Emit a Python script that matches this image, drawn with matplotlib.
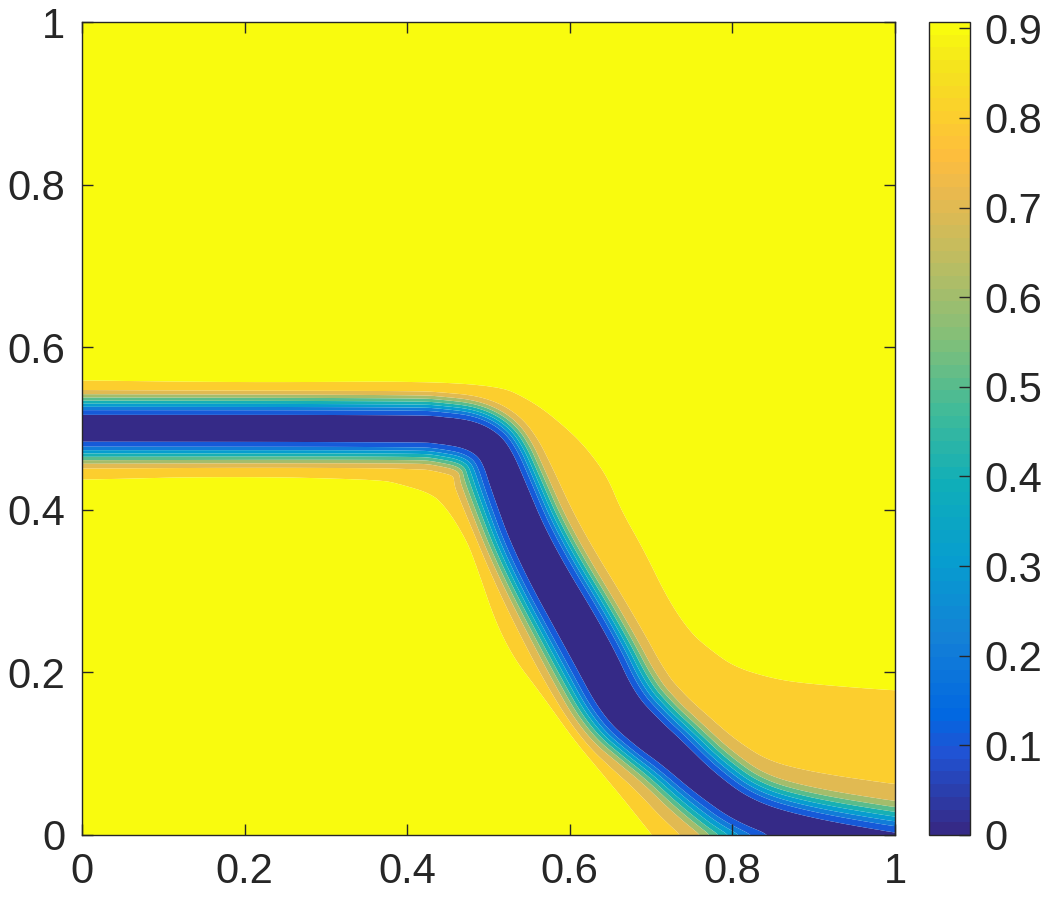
import numpy as np
import matplotlib
matplotlib.use("Agg")
import matplotlib.pyplot as plt
from matplotlib.colors import LinearSegmentedColormap, Normalize
from matplotlib.ticker import FuncFormatter

plt.rcParams['font.family'] = ['Liberation Sans', 'DejaVu Sans']

# parula anchor colours (MATLAB)
parula_pos = [0.0, 0.095, 0.143, 0.238, 0.333, 0.429, 0.524, 0.603, 0.714, 0.794, 0.841, 0.889, 0.952, 1.0]
parula_rgb = [(0.2081, 0.1663, 0.5292), (0.1253, 0.3242, 0.8303), (0.0060, 0.4086, 0.8828),
              (0.0779, 0.5040, 0.8384), (0.0265, 0.6137, 0.8135), (0.0590, 0.6838, 0.7254),
              (0.2586, 0.7317, 0.5954), (0.4871, 0.7491, 0.4840), (0.7525, 0.7384, 0.3768),
              (0.9139, 0.7258, 0.3063), (0.9938, 0.7455, 0.2403), (0.9880, 0.8066, 0.1794),
              (0.9589, 0.8949, 0.1132), (0.9763, 0.9831, 0.0538)]
parula = LinearSegmentedColormap.from_list('parula', list(zip(parula_pos, parula_rgb)), N=64)

# centre line of the low-value band
cx = [0.000, 0.416, 0.440, 0.477, 0.502, 0.514, 0.521, 0.555, 0.625, 0.659, 0.696, 0.724, 0.766, 0.816, 0.883, 1.000, 1.050]
cy = [0.500, 0.500, 0.498, 0.493, 0.479, 0.458, 0.437, 0.351, 0.228, 0.160, 0.125, 0.102, 0.064, 0.028, 0.006, -0.016, -0.021]

# distance from the centre line where the field reaches 0.1 / 0.7 / 0.8
up1 = [.019, .019, .019, .020, .021, .022, .024, .026, .030, .027, .024, .022, .019, .018, .019, .020, .020]
up7 = [.042, .041, .041, .042, .044, .046, .048, .052, .056, .058, .053, .051, .050, .050, .052, .055, .055]
up8 = [.046, .045, .045, .047, .050, .053, .056, .061, .066, .068, .063, .061, .062, .066, .070, .075, .075]
lo1 = [.0185, .019, .019, .020, .021, .022, .023, .026, .028, .026, .024, .021, .019, .018, .018, .018, .018]
lo7 = [.043, .042, .043, .046, .050, .053, .053, .053, .058, .054, .050, .050, .052, .055, .056, .056, .056]
lo8 = [.048, .047, .048, .052, .057, .060, .060, .060, .068, .064, .062, .063, .068, .072, .072, .072, .072]

# where the field reaches 0.9 (outer edge of the orange bands)
top9_x = [-0.03, 0.000, 0.180, 0.502, 0.555, 0.597, 0.621, 0.646, 0.662, 0.690, 0.720, 0.748, 0.772, 0.801, 0.843, 0.883, 0.998, 1.06]
top9_y = [0.556, 0.556, 0.553, 0.555, 0.531, 0.498, 0.474, 0.440, 0.400, 0.351, 0.289, 0.248, 0.228, 0.207, 0.194, 0.187, 0.178, 0.176]
bot9_x = [-0.03, 0.000, 0.185, 0.367, 0.391, 0.432, 0.453, 0.474, 0.484, 0.520, 0.575, 0.637, 0.670, 0.702, 0.730]
bot9_y = [0.440, 0.440, 0.445, 0.440, 0.434, 0.421, 0.400, 0.367, 0.345, 0.235, 0.166, 0.084, 0.043, 0.002, -0.031]

levels = [0, 0.1, 0.2, 0.3, 0.4, 0.5, 0.6, 0.7, 0.8, 0.9, 0.95]
vmax = 0.907


def chaikin(pts, it=4):
    for _ in range(it):
        q = 0.75 * pts[:-1] + 0.25 * pts[1:]
        r = 0.25 * pts[:-1] + 0.75 * pts[1:]
        mid = np.empty((2 * len(q), pts.shape[1]))
        mid[0::2] = q
        mid[1::2] = r
        pts = np.vstack([pts[:1], mid, pts[-1:]])
    return pts


def nearest(gx, gy, pts):
    best = np.full(gx.shape, np.inf)
    side = np.zeros(gx.shape)
    idx = np.zeros(gx.shape, dtype=int)
    tt = np.zeros(gx.shape)
    for i in range(len(pts) - 1):
        ax_, ay_ = pts[i, 0], pts[i, 1]
        dx, dy = pts[i + 1, 0] - ax_, pts[i + 1, 1] - ay_
        L2 = dx * dx + dy * dy
        if L2 == 0:
            continue
        t = np.clip(((gx - ax_) * dx + (gy - ay_) * dy) / L2, 0, 1)
        d = np.hypot(gx - ax_ - t * dx, gy - ay_ - t * dy)
        m = d < best
        best[m] = d[m]
        cr = dx * (gy - ay_) - dy * (gx - ax_)
        side[m] = np.sign(cr[m])
        idx[m] = i
        tt[m] = t[m]
    return best, side, idx, tt


def blur(Z, s=1.8):
    r = int(3 * s)
    w = np.exp(-0.5 * (np.arange(-r, r + 1) / s) ** 2)
    w /= w.sum()
    P = np.pad(Z, r, mode='edge')
    n0, n1 = Z.shape
    A = sum(w[j] * P[j:j + n0, :] for j in range(2 * r + 1))
    return sum(w[j] * A[:, j:j + n1] for j in range(2 * r + 1))


n = 500
gx, gy = np.meshgrid(np.linspace(0, 1, n), np.linspace(0, 1, n))

cl = chaikin(np.array([cx, cy, up1, up7, up8, lo1, lo7, lo8]).T)
d, side, idx, tt = nearest(gx, gy, cl)
par = cl[idx] * (1 - tt)[..., None] + cl[np.minimum(idx + 1, len(cl) - 1)] * tt[..., None]
upper = side >= 0
d1 = np.where(upper, par[..., 2], par[..., 5])
d7 = np.where(upper, par[..., 3], par[..., 6])
d8 = np.where(upper, par[..., 4], par[..., 7])

et, st, _, _ = nearest(gx, gy, chaikin(np.array([top9_x, top9_y]).T))
eb, sb, _, _ = nearest(gx, gy, chaikin(np.array([bot9_x, bot9_y]).T))
e = np.where(upper, et, eb)
inside = np.where(upper, st < 0, sb > 0)

Z = np.where(d < d1, 0.1 * d / d1,
    np.where(d < d7, 0.1 + 0.6 * (d - d1) / (d7 - d1),
    np.where(d < d8, 0.7 + 0.1 * (d - d7) / (d8 - d7),
    np.where(inside, 0.8 + 0.1 * (d - d8) / (d - d8 + e + 1e-9),
             0.9 + (vmax - 0.9) * np.minimum(1, e / 0.006)))))
Z = blur(Z)

fig = plt.figure(figsize=(10.51, 9.02), dpi=100)
ax = fig.add_axes([0.078, 0.0743, 0.7736, 0.9013])
cax = fig.add_axes([0.884, 0.0743, 0.039, 0.9013])

fill_colors = [parula(l / vmax) for l in levels[:-1]]
ax.contourf(gx, gy, Z, levels=levels, colors=fill_colors, antialiased=True)

fmt = FuncFormatter(lambda v, p: '%g' % v)
ax.set_xlim(0, 1)
ax.set_ylim(0, 1)
ax.set_xticks([0, 0.2, 0.4, 0.6, 0.8, 1])
ax.set_yticks([0, 0.2, 0.4, 0.6, 0.8, 1])
ax.xaxis.set_major_formatter(fmt)
ax.yaxis.set_major_formatter(fmt)
ax.tick_params(direction='in', length=8, width=1, colors='#262626', labelsize=30,
               top=True, right=True, pad=12)
for s in ax.spines.values():
    s.set_color('#262626')
    s.set_linewidth(1)

sm = plt.cm.ScalarMappable(norm=Normalize(0, vmax), cmap=parula)
cb = fig.colorbar(sm, cax=cax, ticks=[0, 0.1, 0.2, 0.3, 0.4, 0.5, 0.6, 0.7, 0.8, 0.9])
cb.ax.yaxis.set_major_formatter(fmt)
cb.ax.tick_params(direction='in', length=8, width=1, colors='#262626', labelsize=30, pad=10)
cb.outline.set_edgecolor('#262626')
cb.outline.set_linewidth(1)

fig.savefig('out.png', dpi=100)
